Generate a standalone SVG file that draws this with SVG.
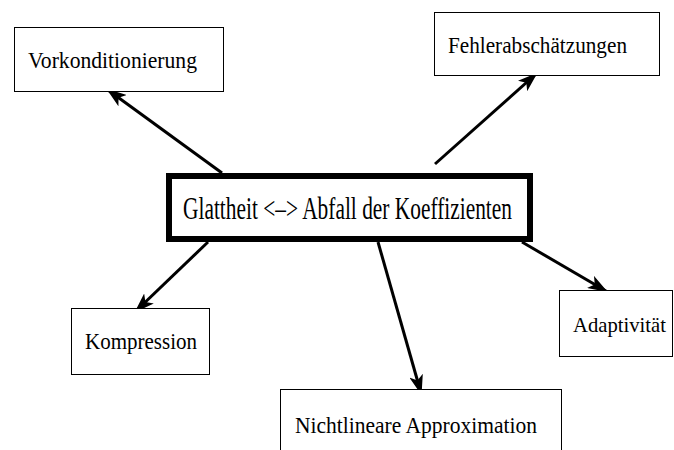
<svg xmlns="http://www.w3.org/2000/svg" width="674" height="450" viewBox="0 0 674 450">
<style>
.box{fill:#fff;stroke:#000;stroke-width:1}
.main{fill:#fff;stroke:#000;stroke-width:6}
.t{font-family:"Liberation Serif","Times New Roman",serif;font-size:24px;fill:#000}
.tm{font-family:"Liberation Serif","Times New Roman",serif;font-size:31px;fill:#000}
.c{stroke:#000;stroke-width:3;fill:none;marker-end:url(#ah)}
</style>
<defs>
<marker id="ah" markerUnits="userSpaceOnUse" viewBox="0 0 20 14" refX="18" refY="7" markerWidth="20" markerHeight="14" orient="auto">
<path d="M0,0 L20,7 L0,14 L5,7 Z" fill="#000"/>
</marker>
</defs>
<rect width="674" height="450" fill="#fff"/>
<g id="connectors">
<line class="c" x1="222" y1="173" x2="108" y2="90"/>
<line class="c" x1="435" y1="164" x2="536" y2="74"/>
<line class="c" x1="208" y1="242" x2="136" y2="311"/>
<line class="c" x1="378" y1="242" x2="421" y2="393"/>
<line class="c" x1="522" y1="242" x2="606" y2="291"/>
</g>
<g id="n-vorkond">
<rect class="box" x="14.5" y="27.5" width="209" height="64"/>
<text class="t" x="28" y="68" textLength="169" lengthAdjust="spacingAndGlyphs">Vorkonditionierung</text>
</g>
<g id="n-fehler">
<rect class="box" x="434.5" y="12.5" width="225" height="63"/>
<text class="t" x="448" y="53" textLength="179" lengthAdjust="spacingAndGlyphs">Fehlerabschätzungen</text>
</g>
<g id="n-main">
<rect class="main" x="169" y="176" width="361" height="63"/>
<text class="tm" x="183" y="219" textLength="329" lengthAdjust="spacingAndGlyphs">Glattheit &lt;–&gt; Abfall der Koeffizienten</text>
</g>
<g id="n-kompression">
<rect class="box" x="71.5" y="308.5" width="138" height="66"/>
<text class="t" x="85" y="349" textLength="112" lengthAdjust="spacingAndGlyphs">Kompression</text>
</g>
<g id="n-adapt">
<rect class="box" x="559.5" y="290.5" width="113" height="66"/>
<text class="t" x="573" y="332" style="font-size:21.5px" textLength="93" lengthAdjust="spacingAndGlyphs">Adaptivität</text>
</g>
<g id="n-nichtlin">
<rect class="box" x="280.5" y="389.5" width="281" height="70"/>
<text class="t" x="295" y="433" textLength="242" lengthAdjust="spacingAndGlyphs">Nichtlineare Approximation</text>
</g>
</svg>
